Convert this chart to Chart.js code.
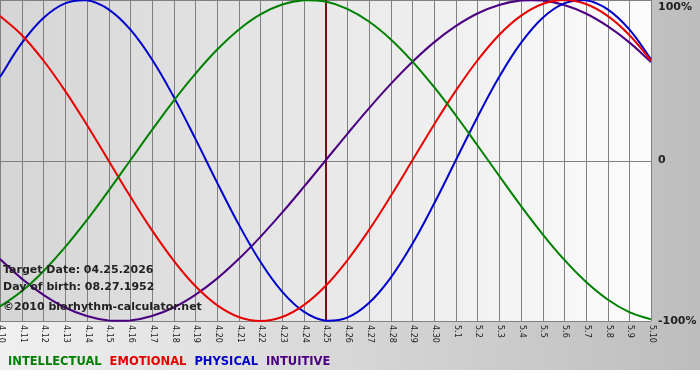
<!DOCTYPE html>
<html>
<head>
<meta charset="utf-8">
<title>Biorhythm</title>
<script src="https://cdn.jsdelivr.net/npm/chart.js@4.4.1/dist/chart.umd.min.js"></script>
<style>
  html, body { margin: 0; padding: 0; background: #fff; }
  canvas { display: block; }
</style>
</head>
<body>
<canvas id="bioChart" width="700" height="380"></canvas>
<script>
// dates shown on the x axis (month.day)
const dates = ['4.10', '4.11', '4.12', '4.13', '4.14', '4.15', '4.16', '4.17', '4.18', '4.19',
    '4.20', '4.21', '4.22', '4.23', '4.24', '4.25', '4.26', '4.27', '4.28', '4.29', '4.30',
    '5.1', '5.2', '5.3', '5.4', '5.5', '5.6', '5.7', '5.8', '5.9', '5.10'];

// cycle values in percent
const intellectual = [-91, -81.5, -69, -54, -37.2, -18.9, 0, 18.9, 37.2, 54, 69, 81.5, 91, 97.2, 99.9, 99,
    94.5, 86.6, 75.6, 61.8, 45.8, 28.2, 9.5, -9.5, -28.2, -45.8, -61.8, -75.6, -86.6, -94.5, -99];
const emotional = [90.1, 78.2, 62.3, 43.4, 22.3, 0, -22.3, -43.4, -62.3, -78.2, -90.1, -97.5, -100, -97.5, -90.1, -78.2,
    -62.3, -43.4, -22.3, 0, 22.3, 43.4, 62.3, 78.2, 90.1, 97.5, 100, 97.5, 90.1, 78.2, 62.3];
const physical = [52, 73.1, 88.8, 97.9, 99.8, 94.2, 81.7, 63.1, 39.8, 13.6, -13.6, -39.8, -63.1, -81.7, -94.2, -99.8,
    -97.9, -88.8, -73.1, -52, -27, 0, 27, 52, 73.1, 88.8, 97.9, 99.8, 94.2, 81.7, 63.1];
const intuitive = [-61.4, -73.6, -83.7, -91.6, -96.9, -99.7, -99.7, -96.9, -91.6, -83.7, -73.6, -61.4, -47.6, -32.5, -16.5, 0,
    16.5, 32.5, 47.6, 61.4, 73.6, 83.7, 91.6, 96.9, 99.7, 99.7, 96.9, 91.6, 83.7, 73.6, 61.4];

const yTickValues = [100, 0, -100];
const yTickLabels = ['100%', '0', '-100%'];

const targetDate = '4.25';
const infoLines = ['Target Date: 04.25.2026', 'Day of birth: 08.27.1952', '\u00a92010 biorhythm-calculator.net'];

// backgrounds, grid, axis labels, legend and info text
const bioDecor = {
    id: 'bioDecor',
    beforeDraw(chart) {
        const { ctx, chartArea: a, scales: { x, y } } = chart;
        ctx.save();
        let g = ctx.createLinearGradient(0, 0, 700, 0);
        g.addColorStop(0, '#f0f0f0');
        g.addColorStop(1, '#bdbdbd');
        ctx.fillStyle = g;
        ctx.fillRect(0, 0, 700, 370);

        g = ctx.createLinearGradient(a.left, 0, a.right, 0);
        g.addColorStop(0, '#d5d5d5');
        g.addColorStop(1, '#fcfcfc');
        ctx.fillStyle = g;
        ctx.fillRect(a.left, a.top, a.right - a.left, a.bottom - a.top);

        ctx.strokeStyle = '#808080';
        ctx.lineWidth = 1;
        ctx.beginPath();
        dates.forEach((d, i) => {
            const px = Math.round(x.getPixelForValue(i)) + 0.5;
            ctx.moveTo(px, a.top);
            ctx.lineTo(px, a.bottom);
        });
        yTickValues.forEach(v => {
            const py = Math.round(y.getPixelForValue(v)) + 0.5;
            ctx.moveTo(a.left, py);
            ctx.lineTo(a.right, py);
        });
        ctx.stroke();

        // target date marker
        const tx = Math.round(x.getPixelForValue(dates.indexOf(targetDate)));
        ctx.strokeStyle = '#6e1414';
        ctx.lineWidth = 2;
        ctx.beginPath();
        ctx.moveTo(tx, a.top);
        ctx.lineTo(tx, a.bottom);
        ctx.stroke();
        ctx.restore();
    },
    afterDatasetsDraw(chart) {
        const { ctx, chartArea: a, scales: { x, y } } = chart;
        ctx.save();
        ctx.fillStyle = '#222';

        // rotated date labels
        ctx.font = '8px "DejaVu Sans"';
        ctx.textAlign = 'left';
        ctx.textBaseline = 'middle';
        dates.forEach((d, i) => {
            ctx.save();
            ctx.translate(x.getPixelForValue(i) + 1, a.bottom + 4);
            ctx.rotate(Math.PI / 2);
            ctx.fillText(d, 0, 0);
            ctx.restore();
        });

        // percent labels on the right
        ctx.font = 'bold 11px "DejaVu Sans"';
        yTickValues.forEach((v, i) => {
            let py = y.getPixelForValue(v);
            py = Math.min(Math.max(py, a.top + 7), a.bottom + 1);
            ctx.fillText(yTickLabels[i], a.right + 7, py);
        });

        // info text
        infoLines.forEach((t, i) => {
            ctx.fillText(t, 3, [270, 287, 307][i]);
        });

        // legend
        ctx.font = 'bold 11.5px "DejaVu Sans"';
        let lx = 8;
        chart.data.datasets.forEach(ds => {
            ctx.fillStyle = ds.borderColor;
            ctx.fillText(ds.label, lx, 362);
            lx += ctx.measureText(ds.label).width + 8;
        });
        ctx.restore();
    }
};

const bioCtx = document.getElementById('bioChart').getContext('2d');
new Chart(bioCtx, {
    type: 'line',
    data: {
        labels: dates,
        datasets: [
            { label: 'INTELLECTUAL', data: intellectual, borderColor: '#008000' },
            { label: 'EMOTIONAL', data: emotional, borderColor: '#e80000' },
            { label: 'PHYSICAL', data: physical, borderColor: '#0000cc' },
            { label: 'INTUITIVE', data: intuitive, borderColor: '#4b0082' }
        ]
    },
    options: {
        responsive: false,
        animation: false,
        layout: { padding: { left: 0, right: 49, top: 0, bottom: 59 } },
        elements: {
            point: { radius: 0 },
            line: { borderWidth: 2, tension: 0.4, fill: false }
        },
        datasets: { line: { clip: 3 } },
        scales: {
            x: { type: 'category', display: false, offset: false },
            y: { display: false, min: -100, max: 100 }
        },
        plugins: {
            legend: { display: false },
            tooltip: { enabled: false }
        }
    },
    plugins: [bioDecor]
});
</script>
</body>
</html>
